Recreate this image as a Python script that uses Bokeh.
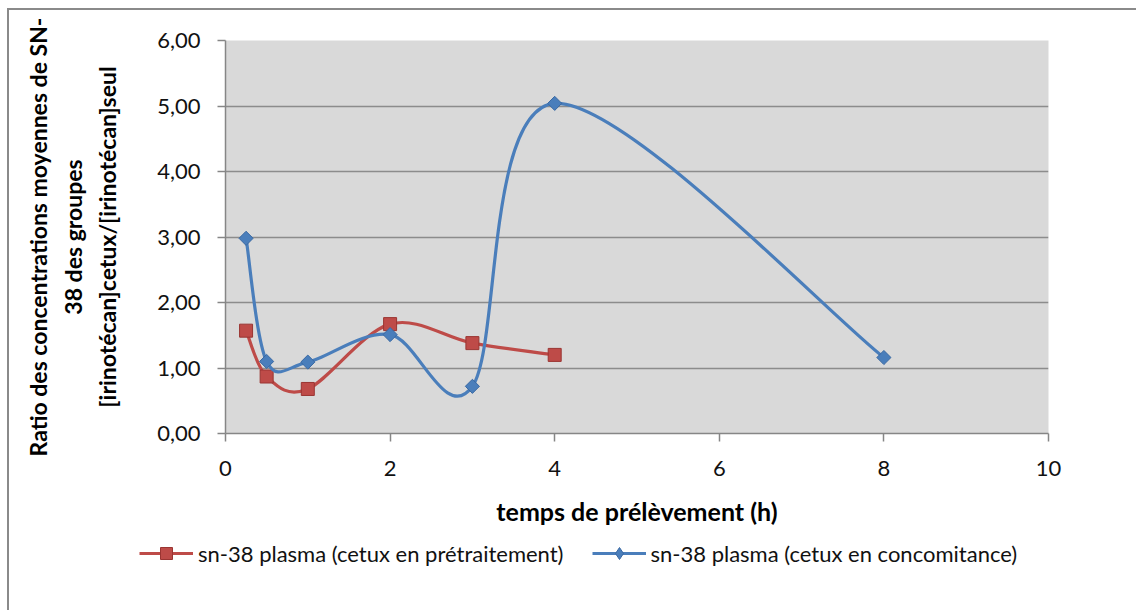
import numpy as np
from bokeh.plotting import figure
from bokeh.layouts import column, row
from bokeh.models import Range1d, FixedTicker, Legend, LegendItem, LinearAxis
from bokeh.embed import file_html
from bokeh.resources import INLINE

# ---- data ----
time_pre = [0.25, 0.5, 1, 2, 3, 4]
ratio_pre = [1.57, 0.87, 0.68, 1.67, 1.38, 1.20]
time_con = [0.25, 0.5, 1, 2, 3, 4, 8]
ratio_con = [2.98, 1.10, 1.09, 1.51, 0.72, 5.04, 1.16]
series_labels = ["sn-38 plasma (cetux en prétraitement)",
                 "sn-38 plasma (cetux en concomitance)"]
x_ticks = [0, 2, 4, 6, 8, 10]
y_ticks = [0, 1, 2, 3, 4, 5, 6]
y_tick_labels = ["0,00", "1,00", "2,00", "3,00", "4,00", "5,00", "6,00"]
x_title = "temps de prélèvement (h)"
y_title_lines = ["Ratio des concentrations moyennes de SN-",
                 "38 des groupes",
                 "[irinotécan]cetux/[irinotécan]seul"]

RED = "#BE4B48"
RED_EDGE = "#9A3532"
BLUE = "#4A7EBB"
BLUE_EDGE = "#3A69A3"
FONT = "Lato"
TITLE_SIZE = "23px"
BORDER = "2px solid #8a8a8a"


def smooth_segments(xs, ys):
    """Excel-like smooth line: cubic Bezier segments (Catmull-Rom control points)."""
    P = np.column_stack([xs, ys]).astype(float)
    ext = np.vstack([P[:1], P, P[-1:]])
    out = {k: [] for k in ("x0", "y0", "x1", "y1", "cx0", "cy0", "cx1", "cy1")}
    for i in range(len(P) - 1):
        pp, p0, p1, pn = ext[i], ext[i + 1], ext[i + 2], ext[i + 3]
        c0 = p0 + (p1 - pp) / 6.0
        c1 = p1 - (pn - p0) / 6.0
        out["x0"].append(p0[0]); out["y0"].append(p0[1])
        out["x1"].append(p1[0]); out["y1"].append(p1[1])
        out["cx0"].append(c0[0]); out["cy0"].append(c0[1])
        out["cx1"].append(c1[0]); out["cy1"].append(c1[1])
    return out


# ---------------- main chart ----------------
p = figure(width=1129, height=528, output_backend="svg", toolbar_location=None,
           x_range=Range1d(0, 10), y_range=Range1d(0, 6),
           min_border_left=216, min_border_right=90, min_border_top=30,
           min_border_bottom=105)
p.styles = {"border-top": BORDER, "border-left": BORDER}

p.border_fill_color = "white"
p.background_fill_color = "#D9D9D9"
p.outline_line_color = None

p.xgrid.grid_line_color = None
p.ygrid.grid_line_color = "#8C8C8C"
p.ygrid.grid_line_width = 1.5
p.ygrid.ticker = FixedTicker(ticks=y_ticks)

for ax in (p.xaxis[0], p.yaxis[0]):
    ax.axis_line_color = "#868686"
    ax.axis_line_width = 1.5
    ax.major_tick_line_color = "#868686"
    ax.major_tick_line_width = 1.5
    ax.major_tick_out = 8
    ax.major_tick_in = 0
    ax.minor_tick_line_color = None
    ax.major_label_text_font = FONT
    ax.major_label_text_font_size = "22px"
    ax.major_label_text_color = "#111111"
    ax.axis_label_text_font = FONT
    ax.axis_label_text_font_style = "bold"
    ax.axis_label_text_color = "#000000"

p.xaxis.ticker = FixedTicker(ticks=x_ticks)
p.xaxis.major_label_standoff = 19
p.xaxis.axis_label = x_title
p.xaxis.axis_label_text_font_size = "25px"
p.xaxis.axis_label_standoff = 17

p.yaxis.ticker = FixedTicker(ticks=y_ticks)
p.yaxis.major_label_overrides = {t: lab for t, lab in zip(y_ticks, y_tick_labels)}
p.yaxis.major_label_standoff = 17
p.yaxis.axis_label = y_title_lines[2]
p.yaxis.axis_label_text_font_size = TITLE_SIZE
p.yaxis.axis_label_standoff = 33

# remaining y-title lines: label-only axes stacked further left
for txt in (y_title_lines[1], y_title_lines[0]):
    extra = LinearAxis(ticker=FixedTicker(ticks=[]), axis_label=txt,
                       axis_line_color=None, major_tick_line_color=None,
                       minor_tick_line_color=None, major_tick_out=0, major_tick_in=0,
                       major_label_standoff=0, axis_label_standoff=4,
                       axis_label_text_font=FONT, axis_label_text_font_size=TITLE_SIZE,
                       axis_label_text_font_style="bold", axis_label_text_color="#000000")
    p.add_layout(extra, "left")

# ---------------- legend strip ----------------
pl = figure(width=1129, height=74, output_backend="svg", toolbar_location=None,
            x_range=Range1d(0, 1), y_range=Range1d(0, 1),
            x_axis_type=None, y_axis_type=None, min_border=0)
if "frame_align" in pl.properties():
    pl.frame_align = False
pl.styles = {"border-left": BORDER}
pl.outline_line_color = None
pl.background_fill_color = "white"
pl.border_fill_color = "white"
pl.grid.visible = False

items = []
for xs, ys, col, edge, size, angle, leg_marker, label in (
        (time_pre, ratio_pre, RED, RED_EDGE, 13, 0.0, "square", series_labels[0]),
        (time_con, ratio_con, BLUE, BLUE_EDGE, 10, np.pi / 4, "diamond", series_labels[1])):
    seg = smooth_segments(xs, ys)
    p.bezier(x0=seg["x0"], y0=seg["y0"], x1=seg["x1"], y1=seg["y1"],
             cx0=seg["cx0"], cy0=seg["cy0"], cx1=seg["cx1"], cy1=seg["cy1"],
             line_color=col, line_width=3.2)
    p.scatter(x=xs, y=ys, marker="square", size=size, angle=angle,
              fill_color=col, line_color=edge, line_width=1)
    # legend proxies (no visible data)
    lg = pl.line(x=[np.nan], y=[np.nan], line_color=col, line_width=3.2)
    lm = pl.scatter(x=[np.nan], y=[np.nan], marker=leg_marker, size=13,
                    fill_color=col, line_color=edge, line_width=1)
    items.append(LegendItem(label=label, renderers=[lg, lm]))

legend = Legend(items=items, orientation="horizontal", location=(130, 42),
                label_text_font=FONT, label_text_font_size="22px",
                label_text_color="#111111",
                glyph_width=54, glyph_height=30, label_standoff=5, spacing=28,
                padding=0, margin=0, border_line_alpha=0, background_fill_alpha=0)
pl.add_layout(legend)

layout = column(p, row(pl, spacing=0), spacing=0, margin=(8, 0, 0, 7))

open("out.html", "w").write(file_html(layout, INLINE))
